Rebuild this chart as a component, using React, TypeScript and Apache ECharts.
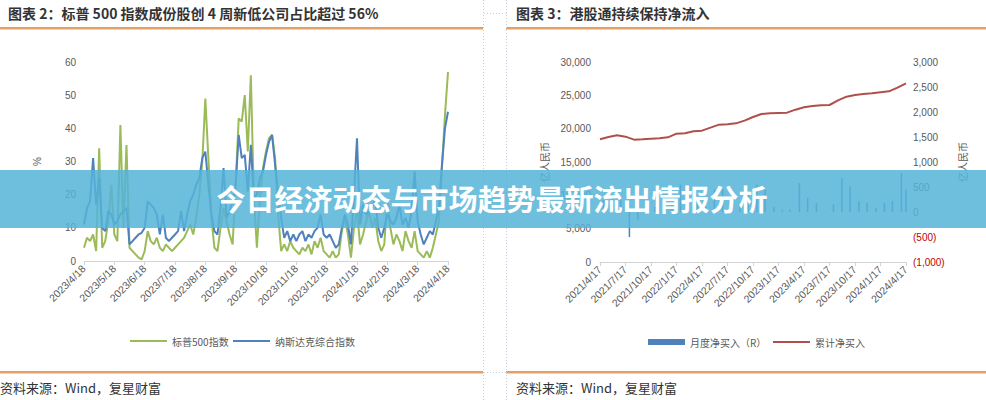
import React, { useEffect, useRef } from 'react';
import * as echarts from 'echarts';

// ---------- Left chart: share of index constituents at 4-week lows (%) ----------
const LEFT_X_LABELS = [
  '2023/4/18', '2023/5/18', '2023/6/18', '2023/7/18', '2023/8/18', '2023/9/18', '2023/10/18',
  '2023/11/18', '2023/12/18', '2024/1/18', '2024/2/18', '2024/3/18', '2024/4/18',
];
const SAMPLES_PER_MONTH = 10;
const SP500 = [
  4, 7, 6, 8, 3, 34, 4, 6, 12, 23,
  8, 6, 41, 10, 35, 4, 3, 2, 1, 0.5,
  3, 9, 6, 5, 7, 4, 3, 5, 4, 3,
  4, 5, 6, 7, 9, 11, 8, 13, 20, 30,
  49, 31, 13, 4, 3, 10, 16, 12, 8, 5,
  23, 43, 42, 50, 33, 56, 19, 4, 19, 28,
  33, 37, 38, 31, 14, 3, 5, 3, 6, 4,
  3, 2, 4, 3, 5, 2, 6, 4, 7, 3,
  2, 1, 3, 1, 2, 9, 13, 8, 1, 10,
  15, 5, 8, 12, 15, 10, 13, 6, 3, 5,
  19, 10, 5, 8, 6, 3, 9, 6, 4, 9,
  3, 2, 1, 3, 1, 4, 8, 12, 28, 44,
  57,
];
const NASDAQ = [
  11, 16, 18, 31, 17, 25, 10, 9, 15, 14,
  11, 12, 14, 15, 16, 5, 6, 7, 8, 8.5,
  10, 18, 17, 16, 14, 8, 14, 7, 6, 7,
  8, 9, 15, 9, 14, 18, 20, 23, 25, 31,
  33, 23, 14, 9, 8, 16, 28, 13, 15, 18,
  23, 38, 31, 32, 21, 35, 19, 20, 25, 27,
  32, 36, 38, 29, 20, 13, 7, 9, 6, 8,
  6, 8, 9, 6, 8, 7, 9, 10, 14, 8,
  7, 8, 6, 4, 5, 10, 14, 11, 5, 20,
  37, 11, 17, 14, 15, 16, 19, 10, 7, 10,
  14, 12, 11, 13, 17, 11, 13, 10, 15, 27,
  12, 8, 5, 7, 9, 8, 12, 16, 29, 40,
  45,
];

// ---------- Right chart: Southbound connect net buying (亿人民币) ----------
const RIGHT_X_LABELS = [
  '2021/4/17', '2021/7/17', '2021/10/17', '2022/1/17', '2022/4/17', '2022/7/17', '2022/10/17',
  '2023/1/17', '2023/4/17', '2023/7/17', '2023/10/17', '2024/1/17', '2024/4/17',
];
const MONTHLY_DATES = [
  '2021-04-30', '2021-05-31', '2021-06-30', '2021-07-31', '2021-08-31', '2021-09-30',
  '2021-10-31', '2021-11-30', '2021-12-31', '2022-01-31', '2022-02-28', '2022-03-31',
  '2022-04-30', '2022-05-31', '2022-06-30', '2022-07-31', '2022-08-31', '2022-09-30',
  '2022-10-31', '2022-11-30', '2022-12-31', '2023-01-31', '2023-02-28', '2023-03-31',
  '2023-04-30', '2023-05-31', '2023-06-30', '2023-07-31', '2023-08-31', '2023-09-30',
  '2023-10-31', '2023-11-30', '2023-12-31', '2024-01-31', '2024-02-29', '2024-03-31',
  '2024-04-17',
];
const MONTHLY_NET_BUY = [
  250, 350, 250, -500, -150, 50, 100, 50, 150, 550, 50, 300,
  100, 450, 450, 50, 150, 400, 550, 450, 100, 50, 50, 580,
  280, 180, -10, 150, 680, 510, 220, 180, 85, 180, 220, 780,
  450,
];
const CUM_DATES = [
  '2021-04-17', '2021-05-17', '2021-06-17', '2021-07-17', '2021-08-17', '2021-09-17',
  '2021-10-17', '2021-11-17', '2021-12-17', '2022-01-17', '2022-02-17', '2022-03-17',
  '2022-04-17', '2022-05-17', '2022-06-17', '2022-07-17', '2022-08-17', '2022-09-17',
  '2022-10-17', '2022-11-17', '2022-12-17', '2023-01-17', '2023-02-17', '2023-03-17',
  '2023-04-17', '2023-05-17', '2023-06-17', '2023-07-17', '2023-08-17', '2023-09-17',
  '2023-10-17', '2023-11-17', '2023-12-17', '2024-01-17', '2024-02-17', '2024-03-17',
  '2024-04-17',
];
const CUM_NET_BUY = [
  18400, 18750, 19000, 18800, 18350, 18400, 18500, 18550, 18700, 19250, 19300, 19600,
  19700, 20150, 20600, 20650, 20800, 21200, 21750, 22200, 22300, 22350, 22400, 22850,
  23200, 23400, 23500, 23550, 24250, 24800, 25050, 25200, 25300, 25450, 25600, 26150,
  26800,
];

const monthOffset = (d: string) => {
  const [y, m, dd] = d.split('-').map(Number);
  return (y - 2021) * 12 + (m - 4) + (dd - 17) / 30.44;
};

const GRAY = '#595959';
const AXIS_LINE = '#d4d4d4';
const ORANGE = '#e3a062';
const CJK = '"Noto Sans CJK SC", "Noto Sans", sans-serif';
const LATIN = '"Liberation Sans", "Noto Sans CJK SC", sans-serif';
const fmt = (v: number) => Math.abs(v).toLocaleString('en-US');

export default function App() {
  const ref = useRef<HTMLDivElement>(null);
  useEffect(() => {
    if (!ref.current) return;
    const chart = echarts.init(ref.current, null, { renderer: 'svg' });
    const axisLabelBase = { color: GRAY, fontSize: 10, fontFamily: LATIN };
    const option: any = {
      animation: false,
      backgroundColor: '#ffffff',
      textStyle: { fontFamily: LATIN },
      grid: [
        { left: 84, top: 62, width: 364, height: 199 },
        { left: 600, top: 62, width: 306, height: 200 },
      ],
      xAxis: [
        {
          type: 'value', gridIndex: 0, min: 0, max: 12, interval: 1,
          axisLine: { lineStyle: { color: AXIS_LINE } },
          axisTick: { show: true, length: 4, lineStyle: { color: AXIS_LINE } },
          splitLine: { show: false },
          axisLabel: { ...axisLabelBase, fontSize: 10.5, rotate: 45, margin: 6, formatter: (v: number) => LEFT_X_LABELS[Math.round(v)] ?? '' },
        },
        {
          type: 'value', gridIndex: 1, min: 0, max: 36, interval: 3,
          axisLine: { lineStyle: { color: AXIS_LINE } },
          axisTick: { show: true, length: 4, lineStyle: { color: AXIS_LINE } },
          splitLine: { show: false },
          axisLabel: { ...axisLabelBase, fontSize: 10.5, rotate: 45, margin: 6, formatter: (v: number) => RIGHT_X_LABELS[Math.round(v / 3)] ?? '' },
        },
      ],
      yAxis: [
        {
          type: 'value', gridIndex: 0, min: 0, max: 60, interval: 10,
          name: '%', nameLocation: 'middle', nameGap: 42, nameRotate: 90,
          nameTextStyle: { color: GRAY, fontSize: 10 },
          axisLine: { show: false }, axisTick: { show: false }, splitLine: { show: false },
          axisLabel: { ...axisLabelBase, margin: 8 },
        },
        {
          type: 'value', gridIndex: 1, min: 0, max: 30000, interval: 5000, position: 'left',
          name: '亿人民币', nameLocation: 'middle', nameGap: 51, nameRotate: 90,
          nameTextStyle: { color: GRAY, fontSize: 10, fontFamily: CJK },
          axisLine: { show: false }, axisTick: { show: false }, splitLine: { show: false },
          axisLabel: { ...axisLabelBase, margin: 9, formatter: (v: number) => fmt(v) },
        },
        {
          type: 'value', gridIndex: 1, min: -1000, max: 3000, interval: 500, position: 'right',
          name: '亿人民币', nameLocation: 'middle', nameGap: 51, nameRotate: 90,
          nameTextStyle: { color: GRAY, fontSize: 10, fontFamily: CJK },
          axisLine: { show: false }, axisTick: { show: false }, splitLine: { show: false },
          axisLabel: {
            ...axisLabelBase, margin: 7,
            formatter: (v: number) => (v < 0 ? `(${fmt(v)})` : fmt(v)),
            color: (v: any) => (Number(v) < 0 ? '#c00000' : GRAY),
          },
        },
      ],
      legend: [
        { data: [{ name: '标普500指数', icon: 'rect' }], left: 125, top: 331, itemWidth: 37, itemHeight: 2, textStyle: { color: GRAY, fontSize: 10, fontFamily: CJK }, selectedMode: false },
        { data: [{ name: '纳斯达克综合指数', icon: 'rect' }], left: 228, top: 331, itemWidth: 37, itemHeight: 2, textStyle: { color: GRAY, fontSize: 10, fontFamily: CJK }, selectedMode: false },
        { data: [{ name: '月度净买入（R）', icon: 'rect' }], left: 643, top: 332, itemWidth: 37, itemHeight: 6, textStyle: { color: GRAY, fontSize: 10, fontFamily: CJK }, selectedMode: false },
        { data: [{ name: '累计净买入', icon: 'rect' }], left: 768, top: 332, itemWidth: 37, itemHeight: 2, textStyle: { color: GRAY, fontSize: 10, fontFamily: CJK }, selectedMode: false },
      ],
      series: [
        {
          name: '标普500指数', type: 'line', xAxisIndex: 0, yAxisIndex: 0, symbol: 'none',
          lineStyle: { color: '#9bbb59', width: 2 }, itemStyle: { color: '#9bbb59' },
          data: SP500.map((v, i) => [i / SAMPLES_PER_MONTH, v]),
        },
        {
          name: '纳斯达克综合指数', type: 'line', xAxisIndex: 0, yAxisIndex: 0, symbol: 'none',
          lineStyle: { color: '#4f81bd', width: 2 }, itemStyle: { color: '#4f81bd' },
          data: NASDAQ.map((v, i) => [i / SAMPLES_PER_MONTH, v]),
        },
        {
          name: '月度净买入（R）', type: 'bar', xAxisIndex: 1, yAxisIndex: 2, barWidth: 1.5,
          itemStyle: { color: '#4f81bd' },
          data: MONTHLY_DATES.map((d, i) => [monthOffset(d), MONTHLY_NET_BUY[i]]),
        },
        {
          name: '累计净买入', type: 'line', xAxisIndex: 1, yAxisIndex: 1, symbol: 'none',
          lineStyle: { color: '#b0504c', width: 2 }, itemStyle: { color: '#b0504c' },
          data: CUM_DATES.map((d, i) => [monthOffset(d), CUM_NET_BUY[i]]),
        },
      ],
      graphic: [
        { type: 'text', x: 8, y: 6, style: { text: '图表 2：标普 500 指数成份股创 4 周新低公司占比超过 56%', font: `bold 14px ${CJK}`, fill: '#333333' } },
        { type: 'text', x: 516, y: 6, style: { text: '图表 3：港股通持续保持净流入', font: `bold 14px ${CJK}`, fill: '#333333' } },
        { type: 'rect', shape: { x: 0, y: 27, width: 483, height: 2.5 }, style: { fill: ORANGE } },
        { type: 'rect', shape: { x: 506, y: 27, width: 480, height: 2.5 }, style: { fill: ORANGE } },
        { type: 'rect', shape: { x: 0, y: 371, width: 483, height: 2.5 }, style: { fill: ORANGE } },
        { type: 'rect', shape: { x: 506, y: 371, width: 480, height: 2.5 }, style: { fill: ORANGE } },
        { type: 'line', shape: { x1: 483.5, y1: 0, x2: 483.5, y2: 400 }, style: { stroke: '#c9cbe0', lineWidth: 1, lineDash: [1, 2] } },
        { type: 'line', shape: { x1: 506.5, y1: 0, x2: 506.5, y2: 400 }, style: { stroke: '#c9cbe0', lineWidth: 1, lineDash: [1, 2] } },
        { type: 'line', shape: { x1: 484, y1: 13.5, x2: 506, y2: 13.5 }, style: { stroke: '#c9cbe0', lineWidth: 1, lineDash: [1, 2] } },
        { type: 'line', shape: { x1: 484, y1: 372.5, x2: 506, y2: 372.5 }, style: { stroke: '#c9cbe0', lineWidth: 1, lineDash: [1, 2] } },
        { type: 'text', x: 0, y: 381, style: { text: '资料来源：Wind，复星财富', font: `13px ${CJK}`, fill: '#333333' } },
        { type: 'text', x: 516, y: 381, style: { text: '资料来源：Wind，复星财富', font: `13px ${CJK}`, fill: '#333333' } },
        { type: 'rect', z: 100, shape: { x: 0, y: 170, width: 986, height: 58 }, style: { fill: 'rgba(85,179,216,0.85)' } },
        {
          type: 'text', z: 101, x: 492, y: 198,
          style: {
            text: '今日经济动态与市场趋势最新流出情报分析', font: `bold 29px ${CJK}`, fill: '#ffffff',
            align: 'center', verticalAlign: 'middle', textAlign: 'center', textVerticalAlign: 'middle',
          },
        },
      ],
    };
    chart.setOption(option);
    return () => chart.dispose();
  }, []);
  return <div ref={ref} style={{ position: 'absolute', left: 0, top: 0, width: 986, height: 400 }} />;
}
